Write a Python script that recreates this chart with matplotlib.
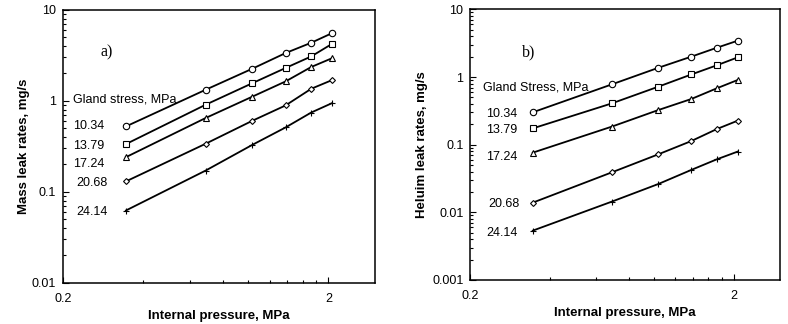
import matplotlib
matplotlib.use("Agg")
import matplotlib.pyplot as plt
from matplotlib.ticker import FixedLocator, NullFormatter, FixedFormatter

plt.rcParams['font.family'] = ['Liberation Sans', 'DejaVu Sans']

# internal pressure, MPa (50..300 psi)
pressure = [0.345, 0.689, 1.034, 1.379, 1.724, 2.068]
gland_labels = ['10.34', '13.79', '17.24', '20.68', '24.14']
markers = ['o', 's', '^', 'D', '+']
msizes = [4.6, 4.6, 4.0, 3.0, 5.0]

# a) mass leak rates, mg/s
mass_1034 = [0.522, 1.32, 2.25, 3.34, 4.34, 5.54]
mass_1379 = [0.334, 0.904, 1.56, 2.29, 3.07, 4.23]
mass_1724 = [0.240, 0.646, 1.11, 1.63, 2.35, 2.94]
mass_2068 = [0.130, 0.337, 0.603, 0.888, 1.355, 1.69]
mass_2414 = [0.0623, 0.171, 0.328, 0.509, 0.743, 0.944]

# b) helium leak rates, mg/s
he_1034 = [0.301, 0.779, 1.37, 2.0, 2.71, 3.44]
he_1379 = [0.174, 0.408, 0.720, 1.09, 1.49, 1.95]
he_1724 = [0.0762, 0.185, 0.325, 0.473, 0.681, 0.903]
he_2068 = [0.0139, 0.039, 0.0720, 0.113, 0.170, 0.226]
he_2414 = [0.00536, 0.0144, 0.0262, 0.0423, 0.0607, 0.0789]

fig = plt.figure(figsize=(7.88, 3.24), dpi=100)
ax1 = fig.add_axes([0.080, 0.127, 0.396, 0.843])
ax2 = fig.add_axes([0.597, 0.136, 0.393, 0.835])


def setup(ax, ylim, yticks, ylabels, ylabel, ypad):
    ax.set_xscale('log')
    ax.set_yscale('log')
    ax.set_xlim(0.2, 3.0)
    ax.set_ylim(*ylim)
    ax.xaxis.set_major_locator(FixedLocator([0.2, 2]))
    ax.xaxis.set_major_formatter(FixedFormatter(['0.2', '2']))
    ax.xaxis.set_minor_locator(FixedLocator([0.4, 0.6, 0.8, 1.0, 1.2, 1.4, 1.6, 1.8]))
    ax.xaxis.set_minor_formatter(NullFormatter())
    ax.yaxis.set_major_locator(FixedLocator(yticks))
    ax.yaxis.set_major_formatter(FixedFormatter(ylabels))
    ax.yaxis.set_minor_formatter(NullFormatter())
    ax.tick_params(which='both', direction='in', top=False, right=False, width=0.8)
    ax.tick_params(which='major', length=4, labelsize=9)
    ax.tick_params(axis='x', which='major', pad=7)
    ax.tick_params(axis='y', which='major', pad=5)
    ax.tick_params(which='minor', length=2.5)
    for s in ax.spines.values():
        s.set_linewidth(1.1)
    ax.set_xlabel('Internal pressure, MPa', fontsize=9.5, fontweight='bold', labelpad=4)
    ax.set_ylabel(ylabel, fontsize=9.5, fontweight='bold', labelpad=ypad)


def draw(ax, series):
    for ys, m, ms in zip(series, markers, msizes):
        ax.plot(pressure, ys, color='black', lw=1.3, marker=m, ms=ms,
                mfc='white', mec='black', mew=0.8)


draw(ax1, [mass_1034, mass_1379, mass_1724, mass_2068, mass_2414])
setup(ax1, (0.01, 10), [0.01, 0.1, 1, 10], ['0.01', '0.1', '1', '10'],
      'Mass leak rates, mg/s', 1)
ax1.text(0.218, 1.02, 'Gland stress, MPa', fontsize=9, va='center')
for lab, y, x in zip(gland_labels, [0.53, 0.316, 0.203, 0.125, 0.06],
                     [0.218, 0.218, 0.218, 0.224, 0.224]):
    ax1.text(x, y, lab, fontsize=9, va='center')
ax1.text(0.276, 3.37, 'a)', fontsize=11.5, va='center', family='Liberation Serif')

draw(ax2, [he_1034, he_1379, he_1724, he_2068, he_2414])
setup(ax2, (0.001, 10), [0.001, 0.01, 0.1, 1, 10],
      ['0.001', '0.01', '0.1', '1', '10'], 'Heluim leak rates, mg/s', 3)
ax2.text(0.223, 0.695, 'Gland Stress, MPa', fontsize=9, va='center')
for lab, y, x in zip(gland_labels, [0.284, 0.165, 0.0665, 0.0133, 0.0049],
                     [0.230, 0.230, 0.230, 0.233, 0.230]):
    ax2.text(x, y, lab, fontsize=9, va='center')
ax2.text(0.313, 2.34, 'b)', fontsize=11.5, va='center', family='Liberation Serif')

fig.savefig('out.png', dpi=100)
